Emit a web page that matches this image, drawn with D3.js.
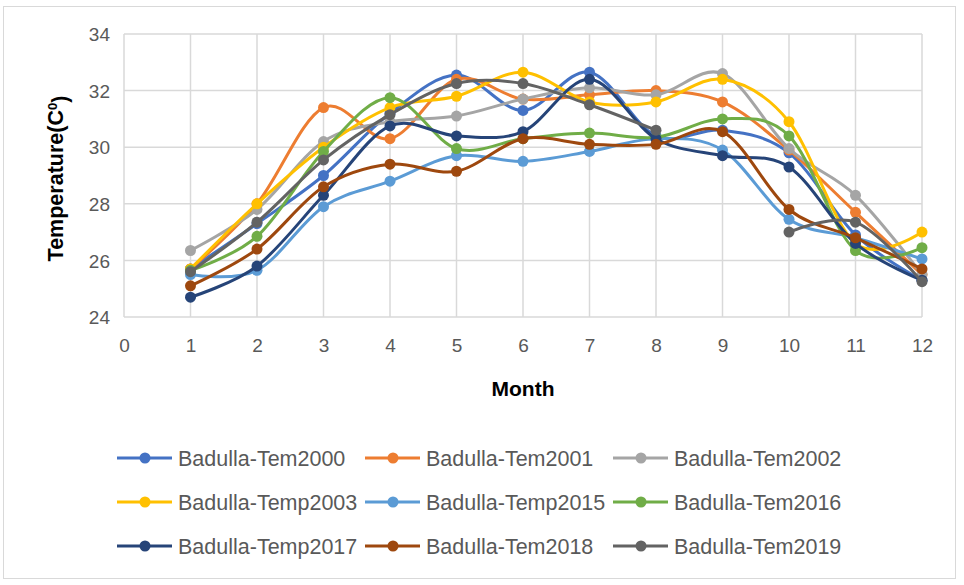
<!DOCTYPE html>
<html>
<head>
<meta charset="utf-8">
<script src="https://cdn.jsdelivr.net/npm/d3@7"></script>
<style>
  body { margin: 0; background: #fff; }
  svg { display: block; font-family: "Liberation Sans", Arial, sans-serif; }
</style>
</head>
<body>
<svg id="chart" width="964" height="585"></svg>
<script>
// months on the x axis
var months = [1, 2, 3, 4, 5, 6, 7, 8, 9, 10, 11, 12];
var xTicks = [0, 1, 2, 3, 4, 5, 6, 7, 8, 9, 10, 11, 12];
var yTicks = [24, 26, 28, 30, 32, 34];

// monthly temperatures
var tem2000  = [25.7, 27.3, 29.0, 31.2, 32.55, 31.3, 32.65, 30.4, 30.6, 29.8, 26.9, 25.3];
var tem2001  = [25.7, 28.0, 31.4, 30.3, 32.4, 31.7, 31.85, 32.0, 31.6, 29.9, 27.7, 25.5];
var tem2002  = [26.35, 27.8, 30.2, 30.9, 31.1, 31.7, 32.1, 31.85, 32.6, 29.95, 28.3, 25.5];
var temp2003 = [25.7, 28.0, 30.0, 31.4, 31.8, 32.65, 31.6, 31.6, 32.4, 30.9, 26.6, 27.0];
var temp2015 = [25.5, 25.65, 27.9, 28.8, 29.7, 29.5, 29.85, 30.3, 29.9, 27.45, 26.8, 26.05];
var tem2016  = [25.65, 26.85, 29.85, 31.75, 29.95, 30.3, 30.5, 30.35, 31.0, 30.4, 26.35, 26.45];
var temp2017 = [24.7, 25.8, 28.3, 30.75, 30.4, 30.55, 32.4, 30.3, 29.7, 29.3, 26.6, 25.3];
var tem2018  = [25.1, 26.4, 28.6, 29.4, 29.15, 30.3, 30.1, 30.1, 30.55, 27.8, 26.8, 25.7];
var tem2019  = [25.6, 27.35, 29.55, 31.15, 32.25, 32.25, 31.5, 30.6, null, 27.0, 27.35, 25.25];

var seriesNames = ["Badulla-Tem2000", "Badulla-Tem2001", "Badulla-Tem2002",
                   "Badulla-Temp2003", "Badulla-Temp2015", "Badulla-Tem2016",
                   "Badulla-Temp2017", "Badulla-Tem2018", "Badulla-Tem2019"];
var seriesValues = [tem2000, tem2001, tem2002, temp2003, temp2015, tem2016, temp2017, tem2018, tem2019];
var seriesColors = ["#4472c4", "#ed7d31", "#a5a5a5", "#ffc000", "#5b9bd5",
                    "#70ad47", "#264478", "#9e480e", "#636363"];

var svg = d3.select("#chart");

// outer chart border
svg.append("rect")
    .attr("x", 3.5).attr("y", 6.5)
    .attr("width", 952).attr("height", 572)
    .attr("fill", "#fff")
    .attr("stroke", "#d9d9d9")
    .attr("stroke-width", 1);

var plot = { left: 124, right: 922, top: 34, bottom: 317 };

var x = d3.scaleLinear().domain([0, 12]).range([plot.left, plot.right]);
var y = d3.scaleLinear().domain([24, 34]).range([plot.bottom, plot.top]);

// gridlines
var grid = svg.append("g");
grid.selectAll(".hgrid")
    .data(yTicks)
    .enter().append("line")
    .attr("x1", plot.left).attr("x2", plot.right)
    .attr("y1", function (d) { return y(d); })
    .attr("y2", function (d) { return y(d); })
    .attr("stroke", "#d9d9d9")
    .attr("stroke-width", 1.5);
grid.selectAll(".vgrid")
    .data(xTicks)
    .enter().append("line")
    .attr("y1", plot.top).attr("y2", plot.bottom)
    .attr("x1", function (d) { return x(d); })
    .attr("x2", function (d) { return x(d); })
    .attr("stroke", "#d9d9d9")
    .attr("stroke-width", 1.5);

// axes, labels only
var yAxis = svg.append("g")
    .attr("transform", "translate(" + (plot.left - 14) + ",0)")
    .call(d3.axisLeft(y).tickValues(yTicks).tickSize(0).tickPadding(0));
var xAxis = svg.append("g")
    .attr("transform", "translate(0," + (plot.bottom + 21) + ")")
    .call(d3.axisBottom(x).tickValues(xTicks).tickSize(0).tickPadding(0));
[yAxis, xAxis].forEach(function (a) {
    a.select(".domain").remove();
    a.selectAll("text")
        .attr("fill", "#595959")
        .style("font-size", "19px")
        .style("font-family", "'Liberation Sans', Arial, sans-serif");
});
yAxis.selectAll("text").attr("dy", "0.35em");
xAxis.selectAll("text").attr("dy", "0.71em");

// axis titles
svg.append("text")
    .attr("x", (plot.left + plot.right) / 2)
    .attr("y", 396)
    .attr("text-anchor", "middle")
    .attr("font-weight", "bold")
    .attr("font-size", "21px")
    .attr("fill", "#000")
    .text("Month");

var yTitle = svg.append("text")
    .attr("transform", "translate(63," + ((plot.top + plot.bottom) / 2 + 3) + ") rotate(-90)")
    .attr("text-anchor", "middle")
    .attr("font-weight", "bold")
    .attr("font-size", "21.5px")
    .attr("fill", "#000");
yTitle.append("tspan").text("Temperature(C");
yTitle.append("tspan").attr("dy", "-0.45em").attr("font-size", "13px").text("0");
yTitle.append("tspan").attr("dy", "0.45em").text(")");

// series lines
var line = d3.line()
    .defined(function (d) { return d != null; })
    .x(function (d, i) { return x(months[i]); })
    .y(function (d) { return y(d); })
    .curve(d3.curveCardinal.tension(0));

seriesValues.forEach(function (vals, s) {
    var g = svg.append("g");
    g.append("path")
        .datum(vals)
        .attr("fill", "none")
        .attr("stroke", seriesColors[s])
        .attr("stroke-width", 3)
        .attr("stroke-linejoin", "round")
        .attr("d", line);
    g.selectAll("circle")
        .data(vals.map(function (v, i) { return { m: months[i], v: v }; })
            .filter(function (d) { return d.v != null; }))
        .enter().append("circle")
        .attr("cx", function (d) { return x(d.m); })
        .attr("cy", function (d) { return y(d.v); })
        .attr("r", 5.5)
        .attr("fill", seriesColors[s]);
});

// legend, three per row
var legend = svg.append("g");
seriesNames.forEach(function (name, i) {
    var col = i % 3, row = Math.floor(i / 3);
    var lx = 117 + col * 248;
    var ly = 458 + row * 44;
    var item = legend.append("g").attr("transform", "translate(" + lx + "," + ly + ")");
    item.append("line")
        .attr("x1", 0).attr("x2", 55)
        .attr("y1", 0).attr("y2", 0)
        .attr("stroke", seriesColors[i])
        .attr("stroke-width", 3);
    item.append("circle")
        .attr("cx", 28).attr("cy", 0).attr("r", 5.5)
        .attr("fill", seriesColors[i]);
    item.append("text")
        .attr("x", 61).attr("y", 0)
        .attr("dy", "0.35em")
        .attr("fill", "#595959")
        .attr("font-size", "21.5px")
        .text(name);
});
</script>
</body>
</html>
